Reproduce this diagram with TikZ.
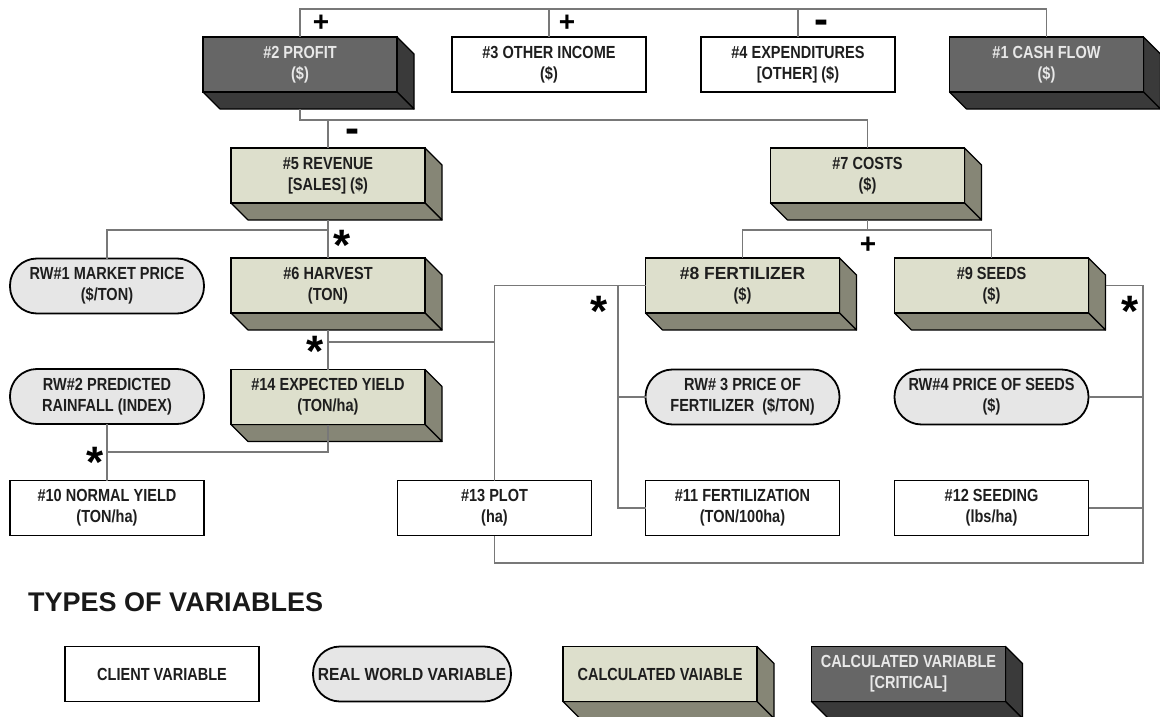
\documentclass[tikz,border=0pt]{standalone}
\usepackage{fontspec}
\setmainfont{Liberation Sans}
\newfontfamily\narrow[FakeStretch=0.83]{Liberation Sans}
\newfontfamily\semi[FakeStretch=0.89]{Liberation Sans}
\usepackage{xcolor}
\definecolor{calcfront}{RGB}{221,223,204}
\definecolor{calcside}{RGB}{134,134,118}
\definecolor{critfront}{RGB}{102,102,102}
\definecolor{critside}{RGB}{58,58,58}
\definecolor{pillgray}{RGB}{230,230,230}
\definecolor{linkgray}{RGB}{120,120,120}
\definecolor{textgray}{RGB}{30,30,30}
\definecolor{crittext}{RGB}{232,232,232}
\usepackage{tikz}

\begin{document}
\begin{tikzpicture}[x=1pt, y=-1pt]
% Configuration
\tikzset{
  box/.style={rectangle, draw=black, line width=1.8pt, outer sep=0pt, inner sep=2pt,
    minimum width=194pt, minimum height=55pt, align=center, text=textgray,
    font=\narrow\bfseries\fontsize{17.5}{21}\selectfont},
  client/.style={box, fill=white},
  realworld/.style={box, fill=pillgray, rounded corners=27pt},
  depth box/.style={append after command={\pgfextra{
    \draw[draw=black, line width=1.2pt, fill=#1, line join=round]
      (\tikzlastnode.north east) -- ++(17pt,-17pt)
      -- ([shift={(17pt,-17pt)}]\tikzlastnode.south east) -- (\tikzlastnode.south east) -- cycle;
    \draw[draw=black, line width=1.2pt, fill=#1, line join=round]
      (\tikzlastnode.south west) -- (\tikzlastnode.south east)
      -- ([shift={(17pt,-17pt)}]\tikzlastnode.south east)
      -- ([shift={(17pt,-17pt)}]\tikzlastnode.south west) -- cycle;
  }}},
  calcbox/.style={box, fill=calcfront, depth box=calcside},
  critbox/.style={box, fill=critfront, text=crittext, depth box=critside},
  link/.style={draw=linkgray, line width=1.6pt},
  plus/.style={inner sep=0pt, font=\bfseries\fontsize{28}{28}\selectfont},
  minus/.style={inner sep=0pt, yshift=-4pt, font=\bfseries\fontsize{42}{42}\selectfont},
  star/.style={inner sep=0pt, yshift=-9pt, font=\bfseries\fontsize{44}{44}\selectfont},
}
\useasboundingbox (0,0) rectangle (1160,717);

% Top row
\node[critbox] (profit) at (300,64.5) {\#2 PROFIT\\(\$)};
\node[client] (income) at (549,64.5) {\#3 OTHER INCOME\\(\$)};
\node[client] (expend) at (798,64.5) {\#4 EXPENDITURES\\{}[OTHER] (\$)};
\node[critbox] (cashflow) at (1046.5,64.5) {\#1 CASH FLOW\\(\$)};

% Revenue side
\node[calcbox] (revenue) at (328,175.5) {\#5 REVENUE\\{}[SALES] (\$)};
\node[realworld] (price) at (107,286) {RW\#1 MARKET PRICE\\(\$/TON)};
\node[calcbox] (harvest) at (328,285.5) {\#6 HARVEST\\(TON)};
\node[realworld] (rain) at (107,396.5) {RW\#2 PREDICTED\\RAINFALL (INDEX)};
\node[calcbox] (yield) at (328,397) {\#14 EXPECTED YIELD\\(TON/ha)};
\node[client] (normal) at (107,508) {\#10 NORMAL YIELD\\(TON/ha)};
\node[client] (plot) at (494.5,508) {\#13 PLOT\\(ha)};

% Cost side
\node[calcbox] (costs) at (867.5,175.5) {\#7 COSTS\\(\$)};
\node[calcbox] (fert) at (742.5,285.5) {{\rmfamily\#8 FERTILIZER}\\(\$)};
\node[calcbox] (seeds) at (991.5,285.5) {\#9 SEEDS\\(\$)};
\node[realworld] (rwfert) at (742.5,397) {RW\# 3 PRICE OF\\FERTILIZER\ \ (\$/TON)};
\node[realworld] (rwseeds) at (991.5,397) {RW\#4 PRICE OF SEEDS\\(\$)};
\node[client] (fertil) at (742.5,508) {\#11 FERTILIZATION\\(TON/100ha)};
\node[client] (seeding) at (991.5,508) {\#12 SEEDING\\(lbs/ha)};

% Connections
\coordinate (bus) at (0,9);
\coordinate (pbus) at (0,120);
\coordinate (rbus) at (0,230);
\coordinate (hbus) at (0,342);
\coordinate (ybus) at (0,452);
\coordinate (lbus) at (0,563);
\coordinate (fx) at (618,0);
\coordinate (sx) at (1143,0);
\draw[link] (profit.north) -- (profit.north |- bus) -| (cashflow.north);
\draw[link] (income.north) -- (income.north |- bus);
\draw[link] (expend.north) -- (expend.north |- bus);
\draw[link] ([yshift=-17pt]profit.south) |- (costs.north |- pbus) -- (costs.north);
\draw[link] (revenue.north) -- (revenue.north |- pbus);
\draw[link] ([yshift=-17pt]revenue.south) -- (harvest.north);
\draw[link] (price.north) |- (revenue.south |- rbus);
\draw[link] ([yshift=-17pt]costs.south) -- (costs.south |- rbus);
\draw[link] (fert.north) |- (seeds.north |- rbus) -- (seeds.north);
\draw[link] ([yshift=-17pt]harvest.south) -- (yield.north);
\draw[link] (harvest.south |- hbus) -| (plot.north);
\draw[link] (plot.north) |- (fert.west);
\draw[link] (fx |- fert.west) |- (fertil.west);
\draw[link] (rwfert.west) -- (fx |- rwfert.west);
\draw[link] (yield.south) |- (rain.south |- ybus);
\draw[link] (rain.south) -- (normal.north);
\draw[link] ([xshift=17pt]seeds.east) -| (sx |- lbus) -| (plot.south);
\draw[link] (rwseeds.east) -- (sx |- rwseeds.east);
\draw[link] (seeding.east) -- (sx |- seeding.east);

% Signs
\node[plus] (p1) at (321,23) {+};
\node[plus] (p2) at (567,23) {+};
\node[minus] (m1) at (821,23) {-};
\node[minus] (m2) at (352,132) {-};
\node[plus] (p3) at (868,245) {+};
\node[star] (s1) at (342,236) {*};
\node[star] (s2) at (599,302) {*};
\node[star] (s3) at (1130,302) {*};
\node[star] (s4) at (315,342) {*};
\node[star] (s5) at (95,453) {*};

% Legend
\node[anchor=west, inner sep=0pt, text=black!90, font=\bfseries\fontsize{27}{30}\selectfont]
  (title) at (28,602.5) {TYPES OF VARIABLES};
\node[client] (lclient) at (162,674) {CLIENT VARIABLE};
\node[realworld, minimum width=198pt, font=\semi\bfseries\fontsize{17.5}{21}\selectfont]
  (lreal) at (412,674) {REAL WORLD VARIABLE};
\node[calcbox] (lcalc) at (660,674) {CALCULATED VAIABLE};
\node[critbox] (lcrit) at (908.5,674) {CALCULATED VARIABLE\\{}[CRITICAL]};
\end{tikzpicture}
\end{document}
